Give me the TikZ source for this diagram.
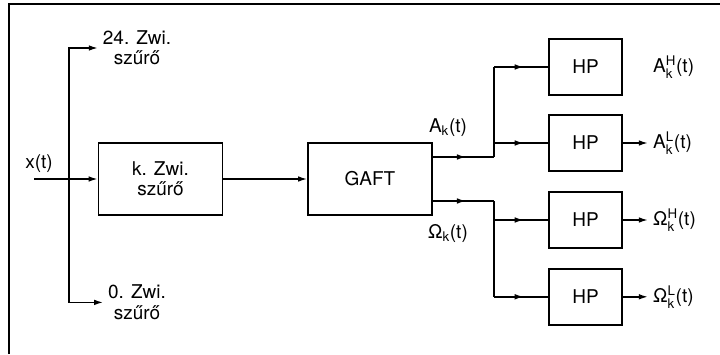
\documentclass[tikz,border=0pt]{standalone}
\usepackage{amsmath}
\usepackage{fontspec}
\setmainfont{TeX Gyre Heros}
\usetikzlibrary{arrows.meta,decorations.markings}

\newcommand{\kidx}[1]{$^{\text{#1}}_{\text{k}}$}

\begin{document}
\begin{tikzpicture}[
	every node/.style={font=\fontsize{13.5}{14.5}\selectfont},
	block/.style={draw, line width=1.1pt, align=center, minimum width=3.1cm, minimum height=1.8cm},
	hpbox/.style={draw, line width=1.1pt, minimum width=1.825cm, minimum height=1.4cm},
	sig/.style={line width=1.1pt},
	tip/.style={sig, -{Latex[length=6.5pt,width=4pt]}},
	midarrow/.style={sig, postaction={decorate}, decoration={markings, mark=at position #1 with {\arrow{Latex[length=6.5pt,width=4pt]}}}},
	midarrow/.default=0.55
	]
		\useasboundingbox (0,0) rectangle (18,8.85);
		\draw[line width=0.9pt] (0.225,0) -- (0.225,8.75) -- (18,8.75);
		
		\coordinate (xstart) at (0.85,4.375);
		\coordinate (split) at (1.725,4.375);
		\node (xlabel) at (0.975,4.75) {x(t)};
		
		\node[block] (kzwi) at (4.0125,4.375) {k. Zwi.\\szűrő};
		\node[block] (gaft) at (9.25,4.375) {GAFT};
		\node[align=center] (zwi24) at (3.425,7.65) {24. Zwi.\\szűrő};
		\node[align=center] (zwi0) at (3.425,1.29) {0. Zwi.\\szűrő};
		
		\draw[tip] (xstart) -- (kzwi);
		\draw[tip] (split) |- (zwi24.west);
		\draw[tip] (split) |- (zwi0.west);
		\draw[tip] (kzwi) -- (gaft);
		
		\coordinate (aout) at (10.8,4.925);
		\coordinate (oout) at (10.8,3.825);
		\coordinate (ja) at (12.35,4.925);
		\coordinate (jo) at (12.35,3.825);
		\node (alabel) at (11.2,5.65) {A$_{\text{k}}$(t)};
		\node (olabel) at (11.2,3.025) {Ω$_{\text{k}}$(t)};
		
		\draw[midarrow] (aout) -- (ja);
		\draw[midarrow] (oout) -- (jo);
		
		\node[hpbox] (hp1) at (14.64,7.175) {HP};
		\node[hpbox] (hp2) at (14.64,5.275) {HP};
		\node[hpbox] (hp3) at (14.64,3.35) {HP};
		\node[hpbox] (hp4) at (14.64,1.43) {HP};
		
		\coordinate (b1) at (12.35,7.175);
		\coordinate (b2) at (12.35,5.275);
		\coordinate (b3) at (12.35,3.35);
		\coordinate (b4) at (12.35,1.43);
		\draw[sig] (b1) -- (ja);
		\draw[sig] (jo) -- (b4);
		
		\draw[midarrow] (b1) -- (hp1);
		\draw[midarrow] (b2) -- (hp2);
		\draw[midarrow] (b3) -- (hp3);
		\draw[midarrow] (b4) -- (hp4);
		
		\node[anchor=west, inner sep=3.5pt] (ahi) at (16.2,7.175) {A\kidx{H}(t)};
		\node[anchor=west, inner sep=3.5pt] (alo) at (16.2,5.275) {A\kidx{L}(t)};
		\node[anchor=west, inner sep=3.5pt] (ohi) at (16.2,3.35) {Ω\kidx{H}(t)};
		\node[anchor=west, inner sep=3.5pt] (olo) at (16.2,1.43) {Ω\kidx{L}(t)};
		
		\draw[tip] (hp2) -- (alo);
		\draw[tip] (hp3) -- (ohi);
		\draw[tip] (hp4) -- (olo);
\end{tikzpicture}
\end{document}
